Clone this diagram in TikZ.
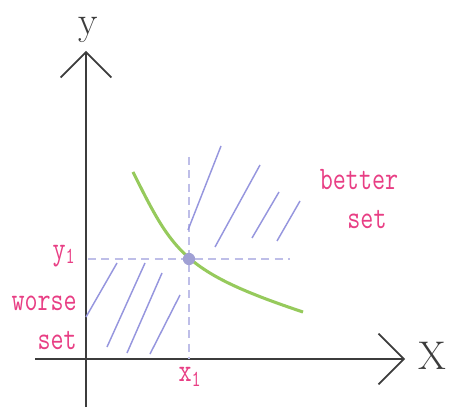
\documentclass[tikz,border=0pt]{standalone}
\usepackage{graphicx}
\usepackage{tikz}
\usetikzlibrary{arrows.meta}
\definecolor{labelpink}{RGB}{232,62,132}
\definecolor{hatchblue}{RGB}{150,150,222}
\definecolor{dashblue}{RGB}{190,190,232}
\definecolor{dotblue}{RGB}{160,160,212}
\definecolor{curvegreen}{RGB}{150,202,92}
\definecolor{axisgray}{RGB}{60,60,60}
\newcommand{\tallword}[1]{\scalebox{1}[1.3]{#1}}
\tikzset{
  axis/.style={draw=axisgray, line width=1.3pt, -{Straight Barb[length=19pt,width=38pt]}},
  guide/.style={draw=dashblue, line width=0.8pt, dash pattern=on 6pt off 4pt},
  hatch/.style={draw=hatchblue, line width=1.1pt},
  setlabel/.style={text=labelpink, font=\fontsize{19}{22}\ttfamily, inner sep=0pt},
  axislabel/.style={text=axisgray, font=\fontsize{30}{33}\selectfont, inner sep=0pt}
}

\begin{document}
\begin{tikzpicture}[x=0.75pt, y=0.75pt]
    \useasboundingbox (0,0) rectangle (449,407);

    % Axes
    \coordinate (O) at (86,48);
    \coordinate (xfrom) at (35,48);
    \coordinate (xto) at (405,48);
    \coordinate (yfrom) at (86,0);
    \coordinate (yto) at (86,356);
    \draw[axis] (xfrom) -- (xto);
    \draw[axis] (yfrom) -- (yto);
    \node[axislabel] (ylabel) at (88,377) {y};
    \node[axislabel] (xlabel) at (432,51) {X};

    % Guides through the chosen bundle
    \coordinate (P) at (189,148);
    \coordinate (hfrom) at (88,148);
    \coordinate (hto) at (290,148);
    \coordinate (vfrom) at (189,250);
    \coordinate (vto) at (189,48);
    \draw[guide] (hfrom) -- (hto);
    \draw[guide] (vfrom) -- (vto);

    % Indifference curve
    \draw[curvegreen, line width=2.3pt] (133,235) .. controls (173,155) and (183,135) .. (303,95);
    \fill[dotblue] (P) circle (4.6pt);

    % Better set hatching
    \draw[hatch] (188,177) -- (221,261);
    \draw[hatch] (215,160) -- (260,242);
    \draw[hatch] (252,169) -- (279,215);
    \draw[hatch] (277,166) -- (300,206);

    % Worse set hatching
    \draw[hatch] (86,90) -- (117,144);
    \draw[hatch] (107,60) -- (145,144);
    \draw[hatch] (127,54) -- (162,134);
    \draw[hatch] (150,53) -- (180,112);

    % Labels
    \node[setlabel] (yone) at (64,151) {\tallword{y\textsubscript{1}}};
    \node[setlabel] (xone) at (190,30) {\tallword{x\textsubscript{1}}};
    \node[setlabel, anchor=east] (worse) at (77,104) {\tallword{worse}};
    \node[setlabel, anchor=east] (worseset) at (77,67) {\tallword{set}};
    \node[setlabel] (better) at (359,227) {\tallword{better}};
    \node[setlabel] (betterset) at (367,188) {\tallword{set}};
\end{tikzpicture}
\end{document}
